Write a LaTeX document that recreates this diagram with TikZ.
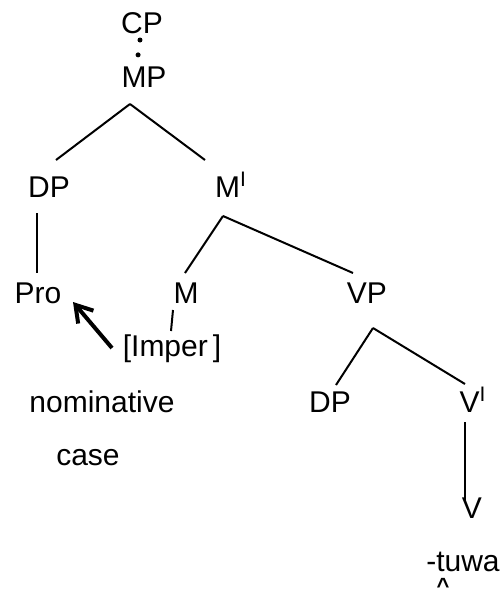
\documentclass[tikz,border=0pt]{standalone}
\usepackage{fontspec}
\setmainfont{Liberation Sans}
\usetikzlibrary{arrows.meta}

\tikzset{
  cat/.style={inner sep=0pt, anchor=base, font=\fontsize{15}{18}\selectfont},
  branch/.style={line width=1pt},
}

\begin{document}
\begin{tikzpicture}[x=0.5pt,y=-0.5pt]
  \useasboundingbox (0,0) rectangle (504,591);

  \node[cat] (CP) at (142,33) {CP};
  \node[cat] (MP) at (144,87) {MP};
  \node[cat] (DP) at (49,197) {DP};
  \node[cat] (Mbar) at (231,197) {M\textsuperscript{I}};
  \node[cat] (Pro) at (38,303) {Pro};
  \node[cat] (M) at (186,303) {M};
  \node[cat] (VP) at (367,303) {VP};
  \node[cat] (Imper) at (172,356) {[Imper\,]};
  \node[cat] (nom) at (102,412) {nominative};
  \node[cat] (case) at (88,465) {case};
  \node[cat] (DPv) at (330,412) {DP};
  \node[cat] (Vbar) at (473,412) {V\textsuperscript{I}};
  \node[cat] (V) at (472,518) {V};
  \node[cat] (tuwa) at (463,571) {-tuwa};
  \node[inner sep=0pt, anchor=base, text height=8pt, text depth=-3.5pt,
    font=\fontsize{11}{13}\selectfont\bfseries] (hacek) at (443,585) {\raisebox{-4pt}{\textasciicircum}};

  \draw[line width=2.5pt, line cap=round, dash pattern=on 0pt off 7.5pt]
    ([shift={(-2,7)}]CP.base) -- ([shift={(-6,-31.5)}]MP.base);

  \draw[branch] ([shift={(-14,17)}]MP.base) -- ([shift={(7,-37)}]DP.base);
  \draw[branch] ([shift={(-14,17)}]MP.base) -- ([shift={(-26,-37)}]Mbar.base);
  \draw[branch] ([shift={(-12,16)}]DP.base) -- ([shift={(-1,-30)}]Pro.base);
  \draw[branch] ([shift={(-8,19)}]Mbar.base) -- ([shift={(-1,-30)}]M.base);
  \draw[branch] ([shift={(-8,19)}]Mbar.base) -- ([shift={(-14,-30)}]VP.base);
  \draw[branch] ([shift={(-13,7)}]M.base) -- ([shift={(-1,-25)}]Imper.base);
  \draw[branch] ([shift={(6,25)}]VP.base) -- ([shift={(6,-27)}]DPv.base);
  \draw[branch] ([shift={(6,25)}]VP.base) -- ([shift={(-8,-28)}]Vbar.base);
  \draw[branch] ([shift={(-8,10)}]Vbar.base) -- ([shift={(-7,-16)}]V.base);

  \draw[line width=2pt, -{Straight Barb[length=8pt,width=10pt]}]
    ([shift={(-60,-8)}]Imper.base) -- ([shift={(35,-1)}]Pro.base);
\end{tikzpicture}
\end{document}
